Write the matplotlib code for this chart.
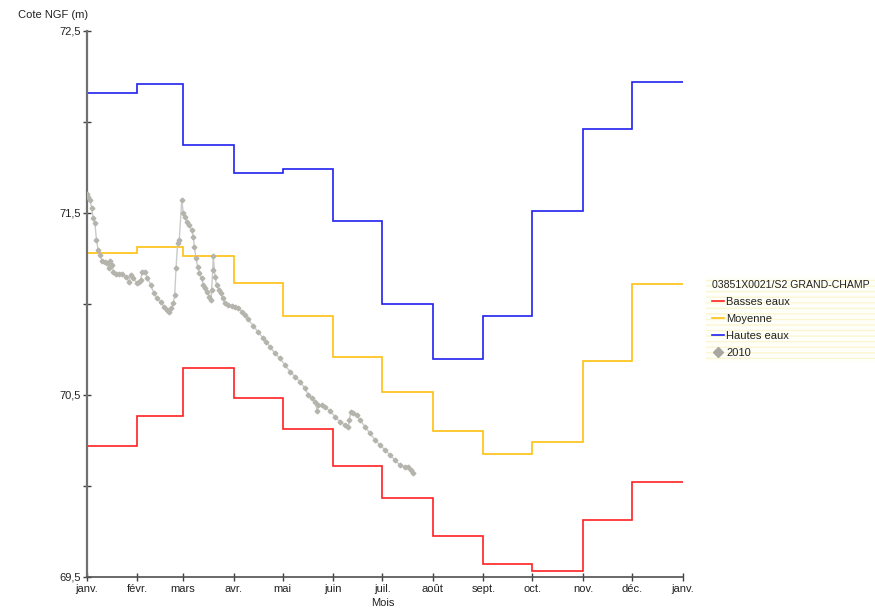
import matplotlib
matplotlib.use("Agg")
import matplotlib.pyplot as plt
from matplotlib.lines import Line2D
from matplotlib.patches import Rectangle

plt.rcParams['font.family'] = ['Liberation Sans', 'DejaVu Sans']

# ---- data ----
month_labels = ["janv.", "févr.", "mars", "avr.", "mai", "juin", "juil.",
                "août", "sept.", "oct.", "nov.", "déc.", "janv."]
month_starts = [0, 31, 59, 90, 120, 151, 181, 212, 243, 273, 304, 334, 365]

basses_eaux = [70.22, 70.385, 70.648, 70.484, 70.313, 70.11, 69.932,
               69.728, 69.571, 69.532, 69.813, 70.021]
moyenne = [71.28, 71.313, 71.264, 71.115, 70.934, 70.709, 70.515,
           70.302, 70.176, 70.243, 70.687, 71.11]
hautes_eaux = [72.16, 72.209, 71.872, 71.718, 71.74, 71.456, 71.002,
               70.7, 70.934, 71.511, 71.962, 72.22]

days_2010 = [0, 1, 2, 3, 4, 5, 6, 7, 8, 9.5, 11, 12.6, 13.7, 14.3, 15.7, 16.3,
             17.7, 19.8, 21.8, 23.9, 25.9, 26.9, 28.5, 31, 32, 33, 34, 35.7,
             37.1, 39.2, 41.2, 43.2, 45.3, 47.3, 49.4, 50.4, 51.8, 53, 53.9,
             54.7, 55.7, 56.7, 58.2, 59.2, 60.2, 61.2, 62.8, 64.3, 65.3, 65.9,
             66.9, 68, 69, 70.4, 71.4, 72.4, 73.9, 75.1, 76.1, 76.5, 77.2, 77.5,
             78.6, 79.6, 81, 82, 83.3, 84.7, 86.7, 88.8, 90.8, 92.8, 94.9, 96.9,
             99, 102, 105.1, 108.1, 110, 112.2, 115.3, 118.4, 121.4, 124.5,
             127.6, 130.6, 133.7, 135.7, 137.8, 139.8, 141.2, 141.8, 143.9,
             145.9, 149, 152, 155.1, 158.2, 160.2, 160.8, 161.8, 163.3, 165.3,
             167.4, 170.4, 173.5, 176.5, 179.6, 182.7, 185.7, 188.8, 191.8,
             194.9, 196.9, 198.4, 200]
niveau_2010 = [71.603, 71.59, 71.571, 71.529, 71.471, 71.443, 71.352, 71.297,
               71.269, 71.236, 71.229, 71.224, 71.196, 71.236, 71.214, 71.178,
               71.163, 71.163, 71.163, 71.15, 71.123, 71.159, 71.141, 71.114,
               71.119, 71.132, 71.174, 71.178, 71.145, 71.104, 71.059, 71.031,
               71.013, 70.985, 70.967, 70.954, 70.976, 71.004, 71.05, 71.196,
               71.337, 71.352, 71.571, 71.498, 71.48, 71.452, 71.434, 71.407,
               71.37, 71.315, 71.251, 71.205, 71.169, 71.141, 71.104, 71.086,
               71.068, 71.04, 71.022, 71.077, 71.187, 71.264, 71.15, 71.104,
               71.077, 71.059, 71.031, 71.004, 70.995, 70.989, 70.985, 70.976,
               70.958, 70.94, 70.915, 70.88, 70.845, 70.812, 70.79, 70.765,
               70.729, 70.701, 70.665, 70.628, 70.601, 70.573, 70.537, 70.5,
               70.482, 70.463, 70.414, 70.445, 70.445, 70.432, 70.414, 70.381,
               70.353, 70.335, 70.326, 70.363, 70.408, 70.399, 70.39, 70.363,
               70.326, 70.29, 70.253, 70.225, 70.198, 70.17, 70.143, 70.115,
               70.106, 70.102, 70.088, 70.07]

# ---- figure ----
W, H = 875, 609
fig = plt.figure(figsize=(W / 100, H / 100), dpi=100)
ax = fig.add_axes([86.7 / W, 1 - 577 / H, (682.7 - 86.7) / W, (577 - 31) / H])

c_red = '#ff2020'
c_yel = '#ffc010'
c_blue = '#2020f0'
c_grey = '#b4b4ac'

ax.stairs(basses_eaux, month_starts, baseline=None, color=c_red, lw=1.2)
ax.stairs(moyenne, month_starts, baseline=None, color=c_yel, lw=1.2)
ax.stairs(hautes_eaux, month_starts, baseline=None, color=c_blue, lw=1.2)
ax.plot(days_2010, niveau_2010, color='#cacaca', lw=1.0, marker='D', ms=2.4,
        mfc=c_grey, mec=c_grey, zorder=3)

ax.set_xlim(0, 365)
ax.set_ylim(69.5, 72.5)
ax.set_xticks(month_starts)
ax.set_xticklabels(month_labels)
ax.set_yticks([69.5, 70.5, 71.5, 72.5])
ax.set_yticklabels(["69,5", "70,5", "71,5", "72,5"])
ax.set_yticks([70.0, 71.0, 72.0], minor=True)

for s in ['top', 'right']:
    ax.spines[s].set_visible(False)
ax.spines['left'].set_color('#707070')
ax.spines['left'].set_linewidth(1.6)
ax.spines['bottom'].set_color('#505050')
ax.spines['bottom'].set_linewidth(1.2)
ax.tick_params(axis='both', which='both', direction='inout', length=6,
               width=1.0, color='#404040', labelsize=8, labelcolor='#222222')
ax.tick_params(axis='x', pad=2)
ax.tick_params(axis='y', pad=1)

fig.text(18 / W, 1 - 15 / H, "Cote NGF (m)", fontsize=8, color='#222222',
         va='center', ha='left')
fig.text(383 / W, 1 - 603 / H, "Mois", fontsize=8, color='#222222',
         va='center', ha='center')

# legend background
bg = Rectangle((706 / W, 1 - 362 / H), 169 / W, 86 / H, transform=fig.transFigure,
               facecolor='#fffffa', edgecolor='#fbf6d2', hatch='---', lw=0,
               zorder=0)
fig.patches.append(bg)

handles = [Line2D([], [], color=c_red, lw=1.2),
           Line2D([], [], color=c_yel, lw=1.2),
           Line2D([], [], color=c_blue, lw=1.2),
           Line2D([], [], color='#a8a8a0', lw=0, marker='D', ms=5)]
labels = ["Basses eaux", "Moyenne", "Hautes eaux", "2010"]
leg = fig.legend(handles, labels, title="03851X0021/S2 GRAND-CHAMP",
                 loc='upper left', bbox_to_anchor=(710 / W, 1 - 278 / H),
                 frameon=False, fontsize=8, title_fontsize=7.6,
                 handlelength=1.1, handletextpad=0.15, labelspacing=0.62,
                 borderaxespad=0, borderpad=0.2, alignment='left')
for t in leg.get_texts():
    t.set_color('#222222')
leg.get_title().set_color('#222222')

fig.savefig("out.png", dpi=100)
